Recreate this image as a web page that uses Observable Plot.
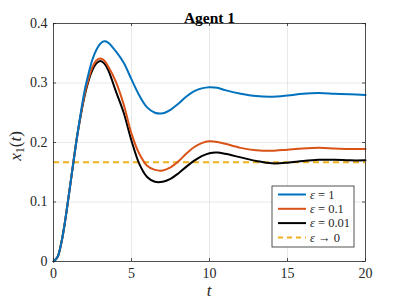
<!DOCTYPE html>
<html><head><meta charset="utf-8">
<script src="https://cdn.jsdelivr.net/npm/d3@7"></script>
<script src="https://cdn.jsdelivr.net/npm/@observablehq/plot@0.6"></script>
<style>body{margin:0;background:#fff} svg{display:block}</style>
</head><body><div id="chart"></div>
<script>
const title = "Agent 1";
const xLabel = "t";
const t = [0,0.25,0.5,0.75,1,1.25,1.5,1.75,2,2.25,2.5,2.75,3,3.25,3.5,4,4.5,5,5.5,6,6.5,7,7.5,8,8.5,9,9.5,10,10.5,11,12,13,14,15,16,17,18,19,20];
const eps1 = [0,0.007,0.031,0.069,0.115,0.162,0.208,0.250,0.288,0.316,0.340,0.356,0.366,0.370,0.368,0.353,0.334,0.306,0.279,0.259,0.250,0.249,0.255,0.265,0.277,0.286,0.291,0.293,0.292,0.288,0.282,0.278,0.277,0.279,0.282,0.283,0.282,0.281,0.280];
const eps01 = [0,0.007,0.031,0.069,0.115,0.162,0.208,0.247,0.281,0.307,0.327,0.338,0.341,0.338,0.328,0.302,0.264,0.215,0.181,0.161,0.154,0.153,0.158,0.168,0.181,0.192,0.199,0.202,0.201,0.198,0.191,0.187,0.186,0.188,0.190,0.191,0.190,0.189,0.189];
const eps001 = [0,0.007,0.031,0.069,0.115,0.162,0.208,0.246,0.279,0.304,0.322,0.333,0.337,0.333,0.322,0.286,0.250,0.203,0.164,0.142,0.134,0.134,0.139,0.148,0.159,0.169,0.177,0.182,0.183,0.181,0.175,0.169,0.165,0.166,0.169,0.171,0.171,0.170,0.170];
const epsLimit = 0.1667;
const seriesLabels = ["ε = 1", "ε = 0.1", "ε = 0.01", "ε → 0"];
const colors = ["#0072BD", "#D95319", "#000000", "#EDB120"];
const xTicks = [0,5,10,15,20];
const yTicks = [0,0.1,0.2,0.3,0.4];
const xDomain = [0,20], yDomain = [0,0.4];

const W = 403, H = 303, mL = 53, mR = 38, mT = 23, mB = 42;
const tickPx = 3;
const tx = tickPx / (W - mL - mR) * (xDomain[1]-xDomain[0]);
const ty = tickPx / (H - mT - mB) * (yDomain[1]-yDomain[0]);
const axisColor = "#262626";
const font = "Liberation Serif, Times New Roman, serif";

const series = [eps1, eps01, eps001];
const rows = series.map(s => t.map((tt,i)=>({t:tt, v:s[i]})));

const chart = Plot.plot({
  width: W, height: H, marginLeft: mL, marginRight: mR, marginTop: mT, marginBottom: mB,
  style: {fontFamily: font, background: "#fff", overflow: "visible"},
  x: {domain: xDomain, label: null},
  y: {domain: yDomain, label: null},
  marks: [
    Plot.ruleX(xTicks.slice(1,-1), {x: d=>d, stroke: axisColor, strokeOpacity: 0.13, strokeWidth: 0.8}),
    Plot.ruleY(yTicks.slice(1,-1), {y: d=>d, stroke: axisColor, strokeOpacity: 0.13, strokeWidth: 0.8}),
    Plot.ruleY([epsLimit], {y: d=>d, stroke: colors[3], strokeWidth: 2, strokeDasharray: "6,4"}),
    ...rows.slice().reverse().map((r,j) => Plot.line(r, {x:"t", y:"v", stroke: colors[2-j], strokeWidth: 2, curve: "catmull-rom"})),
    Plot.frame({stroke: axisColor, strokeWidth: 0.8}),
    Plot.ruleX(xTicks, {x: d=>d, y1: yDomain[0], y2: yDomain[0]+ty, stroke: axisColor, strokeWidth: 0.8}),
    Plot.ruleX(xTicks, {x: d=>d, y1: yDomain[1]-ty, y2: yDomain[1], stroke: axisColor, strokeWidth: 0.8}),
    Plot.ruleY(yTicks, {y: d=>d, x1: xDomain[0], x2: xDomain[0]+tx, stroke: axisColor, strokeWidth: 0.8}),
    Plot.ruleY(yTicks, {y: d=>d, x1: xDomain[1]-tx, x2: xDomain[1], stroke: axisColor, strokeWidth: 0.8}),
    Plot.axisX(xTicks, {tickSize: 0, tickPadding: 7, fontSize: 14, fill: axisColor, fontFamily: font, tickFormat: d=>String(d)}),
    Plot.axisY(yTicks, {tickSize: 0, tickPadding: 6, fontSize: 14, fill: axisColor, fontFamily: font, tickFormat: d=>String(d)}),
    Plot.text([title], {frameAnchor: "top", dy: -12, fontWeight: "bold", fontSize: 15.5, fill: "#000", fontFamily: font})
  ]
});
document.getElementById("chart").appendChild(chart);

const svg = d3.select(chart);
// x label
svg.append("text").attr("x", mL + (W-mL-mR)/2).attr("y", 296).attr("text-anchor","middle")
  .attr("font-family", font).attr("font-size", 17).attr("font-style","italic").attr("fill", axisColor).text(xLabel);
// y label x1(t)
const yl = svg.append("text")
  .attr("transform", `translate(${21},${146}) rotate(-90)`)
  .attr("text-anchor","middle").attr("font-family", font).attr("font-size", 17).attr("fill", axisColor);
yl.append("tspan").attr("font-style","italic").text("x");
yl.append("tspan").attr("font-size", 12).attr("dy", 3).text("1");
yl.append("tspan").attr("dy", -3).text("(");
yl.append("tspan").attr("font-style","italic").text("t");
yl.append("tspan").text(")");

// legend
const lg = svg.append("g");
const lx = 272, ly = 186, lw = 82, lh = 61;
lg.append("rect").attr("x",lx).attr("y",ly).attr("width",lw).attr("height",lh)
  .attr("fill","#fff").attr("stroke",axisColor).attr("stroke-width",0.8);
seriesLabels.forEach((lab,i)=>{
  const y = ly + 8.5 + i*14.3;
  lg.append("line").attr("x1",lx+6).attr("x2",lx+34).attr("y1",y).attr("y2",y)
    .attr("stroke",colors[i]).attr("stroke-width",2).attr("stroke-dasharray", i===3 ? "5,4" : null);
  lg.append("text").attr("x",lx+38).attr("y",y).attr("dy","0.33em").attr("text-anchor","start")
    .attr("font-family",font).attr("font-size",12.5).attr("font-style","italic").attr("fill",axisColor)
    .text(lab.slice(0,1));
  lg.append("text").attr("x",lx+46).attr("y",y).attr("dy","0.33em").attr("text-anchor","start")
    .attr("font-family",font).attr("font-size",12.5).attr("fill",axisColor)
    .text(lab.slice(1).trim());
});
</script>
</body></html>
